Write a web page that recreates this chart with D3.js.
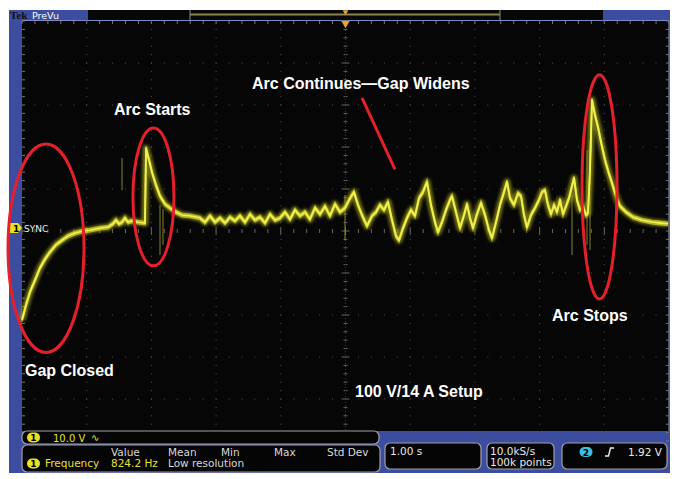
<!DOCTYPE html>
<html><head><meta charset="utf-8">
<script src="https://cdn.jsdelivr.net/npm/d3@7"></script>
<style>body{margin:0;background:#fff}svg{display:block}</style>
</head><body><svg id="c" width="680" height="479"></svg>
<script>
// ---- data (time in s since record start, voltage in V) ----
const secPerDiv = 1.00, voltsPerDiv = 10.0;
const traceT = [0,0.062,0.124,0.201,0.278,0.355,0.433,0.525,0.618,0.711,0.819,0.943,1.051,1.206,1.329,1.406,1.453,1.499,1.546,1.592,1.638,1.700,1.793,1.901,
 1.917,1.963,2.009,2.071,2.133,2.210,2.287,2.380,2.473,2.597,2.751,
 2.828,2.906,2.983,3.060,3.138,3.215,3.292,3.369,3.447,3.524,3.601,3.679,3.756,3.833,3.910,3.988,4.065,4.142,4.219,4.297,4.374,4.451,4.529,4.606,4.683,4.760,4.838,4.915,4.992,
 5.070,5.131,5.193,5.255,5.332,5.410,5.471,5.533,5.595,5.657,5.719,5.781,5.827,5.889,5.951,6.012,6.074,6.136,6.198,6.260,6.321,6.383,6.430,6.491,6.553,6.615,6.646,6.708,6.770,6.832,6.878,6.924,6.971,7.032,7.094,7.156,7.218,7.264,7.326,7.388,7.450,7.496,7.543,7.604,7.666,7.713,7.759,7.805,7.867,7.929,7.991,8.037,8.083,8.130,8.176,8.223,8.269,8.315,8.362,8.408,8.454,8.501,8.532,8.578,8.624,8.671,8.717,8.748,
 8.779,8.810,8.856,8.903,8.949,9.011,9.073,9.119,9.181,9.243,9.335,9.444,9.583,9.737,9.861,9.985];
const traceV = [-21.9,-18.3,-15.2,-12.4,-9.5,-7.4,-5.7,-4.0,-2.9,-1.9,-1.2,-0.7,-0.5,0,0.2,1.0,1.9,1.0,1.4,2.4,1.4,1.7,1.4,1.2,
 19.0,16.2,13.3,10.2,7.6,5.7,4.8,3.8,3.1,2.9,2.4,
 1.4,2.9,1.4,2.4,1.2,2.6,1.7,2.9,1.4,3.3,1.9,2.6,1.2,3.3,1.9,2.4,3.8,2.1,4.3,2.9,3.8,2.1,4.8,3.3,5.2,2.9,5.7,3.8,4.8,
 7.1,8.6,5.5,3.1,0.5,2.9,3.8,5.5,4.3,6.2,1.9,-1.9,-2.9,0,2.4,4.3,2.9,7.1,8.6,11.0,5.5,1.4,-1.0,1.4,4.3,6.7,7.6,3.8,0,3.1,5.7,2.4,0,3.3,6.0,3.1,-0.5,-2.4,1.4,5.5,8.6,11.0,7.1,5.5,8.3,7.6,3.1,0.2,3.1,4.8,6.7,8.6,9.0,5.5,3.3,5.5,3.8,6.7,3.3,5.2,7.1,10.0,11.9,6.7,4.3,5.2,3.1,3.6,
 13.8,30.5,26.9,24.0,20.5,16.2,12.9,10.7,7.6,5.2,3.8,2.6,1.9,1.4,1.2,1.0];
// faint vertical glitches: time, low V, high V
const spikeT = [1.546, 2.133, 2.179, 4.992, 8.501, 8.733, 8.779];
const spikeLo = [9.0, -6.4, -4.0, -2.9, -6.4, -4.0, -5.2];
const spikeHi = [16.7, 5.5, 4.5, 7.9, 7.9, 18.6, 21.0];
// annotations
const ellT = [0.371, 2.032, 8.926], ellV = [-4.8, 7.4, 9.8], ellRT = [0.587, 0.317, 0.270], ellRV = [24.8, 16.4, 26.7];
const pointerT = [5.255, 5.765], pointerV = [31.0, 14.0];
const labelText = ["Gap Closed", "Arc Starts", "Arc Continues\u2014Gap Widens", "Arc Stops", "100 V/14 A Setup"];
const labelT = [0.046, 1.422, 3.555, 8.192, 5.147];
const labelV = [-35.2, 26.9, 33.1, -22.1, -40.2];
// readouts
const measHeaders = ["Value", "Mean", "Min", "Max", "Std Dev"];
const measRow = ["824.2 Hz", "Low resolution"];

const svg = d3.select("#c");
const L = 22, R = 669, T = 21, B = 441;
const x = d3.scaleLinear().domain([0, 10 * secPerDiv]).range([L, R]);
const y = d3.scaleLinear().domain([-50.7, 49.3]).range([B, T]);
const gx = d3.scaleLinear().domain([-5, 5]).range([L, R]);
const gy = d3.scaleLinear().domain([-5, 5]).range([B, T]);
const blue = "#3c4d9f";

const defs = svg.append("defs");
defs.append("filter").attr("id", "blur").attr("x", "-5%").attr("y", "-20%").attr("width", "110%").attr("height", "140%")
  .append("feGaussianBlur").attr("stdDeviation", 1.6);
defs.append("filter").attr("id", "blur2")
  .append("feGaussianBlur").attr("stdDeviation", 0.6);

// frame
svg.append("rect").attr("x", 9).attr("y", 10).attr("width", 661).attr("height", 463).attr("fill", blue);
svg.append("rect").attr("x", L).attr("y", 20).attr("width", R - L).attr("height", 411).attr("fill", "#060606");
// top bar
svg.append("rect").attr("x", 88).attr("y", 10).attr("width", 515).attr("height", 10).attr("fill", "#070707");
svg.append("text").attr("x", 10).attr("y", 19).attr("font-family", "Liberation Serif").attr("font-weight", "bold").attr("font-size", 11).attr("fill", "#111").text("Tek");
svg.append("text").attr("x", 32).attr("y", 18.5).attr("font-family", "DejaVu Sans").attr("font-size", 9.5).attr("fill", "#fff").text("PreVu");
svg.append("line").attr("x1", 190).attr("x2", 500).attr("y1", 14.5).attr("y2", 14.5).attr("stroke", "#8c8448").attr("stroke-width", 2);
[190, 500].forEach(v => svg.append("line").attr("x1", v).attr("x2", v).attr("y1", 10).attr("y2", 20).attr("stroke", "#8a8a8a").attr("stroke-width", 1));
svg.append("path").attr("d", d3.symbol(d3.symbolTriangle, 14)()).attr("transform", `translate(${gx(0)},12) rotate(180)`).attr("fill", "#f0a030");
svg.append("line").attr("x1", L).attr("x2", R).attr("y1", 20.5).attr("y2", 20.5).attr("stroke", "#7d8cc4").attr("stroke-width", 1);
svg.append("line").attr("x1", R).attr("x2", R).attr("y1", 20).attr("y2", 431).attr("stroke", "#6f7fb8").attr("stroke-width", 1.2);

// graticule
const g = svg.append("g");
const minorX = d3.range(-5, 5.001, 0.2), minorY = d3.range(-5, 5.001, 0.2);
d3.range(-4, 5).forEach(i => {
  if (i === 0) return;
  g.selectAll(null).data(minorY).enter().append("rect")
    .attr("x", gx(i) - 0.5).attr("y", d => gy(d) - 0.5).attr("width", 1).attr("height", 1).attr("fill", "#555");
  g.selectAll(null).data(minorX).enter().append("rect")
    .attr("x", d => gx(d) - 0.5).attr("y", gy(i) - 0.5).attr("width", 1).attr("height", 1).attr("fill", "#555");
});
const isMajor = d => Math.abs(d - Math.round(d)) < 1e-6;
g.selectAll(null).data(minorY).enter().append("line")
  .attr("x1", d => gx(0) - (isMajor(d) ? 4 : 2)).attr("x2", d => gx(0) + (isMajor(d) ? 4 : 2))
  .attr("y1", d => gy(d)).attr("y2", d => gy(d)).attr("stroke", "#666").attr("stroke-width", 1);
g.append("line").attr("x1", gx(0)).attr("x2", gx(0)).attr("y1", T).attr("y2", 431).attr("stroke", "#3a3a3a").attr("stroke-dasharray", "1,2");
g.selectAll(null).data(minorX).enter().append("line")
  .attr("y1", d => gy(0) - (isMajor(d) ? 4 : 2)).attr("y2", d => gy(0) + (isMajor(d) ? 4 : 2))
  .attr("x1", d => gx(d)).attr("x2", d => gx(d)).attr("stroke", "#666").attr("stroke-width", 1);
g.selectAll(null).data(minorX).enter().append("line")
  .attr("x1", d => gx(d)).attr("x2", d => gx(d)).attr("y1", T).attr("y2", T + 3).attr("stroke", "#777");
g.selectAll(null).data(minorY).enter().append("line")
  .attr("y1", d => gy(d)).attr("y2", d => gy(d)).attr("x1", L).attr("x2", L + 3).attr("stroke", "#777");
g.selectAll(null).data(minorY).enter().append("line")
  .attr("y1", d => gy(d)).attr("y2", d => gy(d)).attr("x1", R - 3).attr("x2", R).attr("stroke", "#777");
svg.append("path").attr("d", d3.symbol(d3.symbolTriangle, 30)()).attr("transform", `translate(${gx(0)},23.5) rotate(180)`).attr("fill", "#f0a030");

// trace
const pts = traceT.map((t, i) => [t, traceV[i]]);
const line = d3.line().x(d => x(d[0])).y(d => y(d[1]));
const tg = svg.append("g");
tg.selectAll(null).data(spikeT).enter().append("line")
  .attr("x1", d => x(d)).attr("x2", d => x(d))
  .attr("y1", (d, i) => y(spikeLo[i])).attr("y2", (d, i) => y(spikeHi[i]))
  .attr("stroke", "#9a9a30").attr("stroke-width", 1.2).attr("opacity", 0.7);
tg.append("path").attr("d", line(pts)).attr("fill", "none").attr("stroke", "#9c9c1c").attr("stroke-width", 7)
  .attr("stroke-linejoin", "round").attr("opacity", 0.7).attr("filter", "url(#blur)");
[-1.6, 1.6].forEach(dy => tg.append("path").attr("d", line(pts)).attr("transform", `translate(0,${dy})`)
  .attr("fill", "none").attr("stroke", "#d4d42a").attr("stroke-width", 1.6).attr("opacity", 0.75).attr("filter", "url(#blur2)"));
tg.append("path").attr("d", line(pts)).attr("fill", "none").attr("stroke", "#f2f250").attr("stroke-width", 1.8)
  .attr("stroke-linejoin", "round").attr("filter", "url(#blur2)");

// channel 1 marker
svg.append("path").attr("d", `M9,${y(0) - 5}h9l4,5l-4,5h-9z`).attr("fill", "#e8e020");
svg.append("text").attr("x", 13).attr("y", y(0) + 3.5).attr("font-family", "DejaVu Sans").attr("font-weight", "bold").attr("font-size", 9).attr("fill", "#000").text("1");
svg.append("text").attr("x", 24).attr("y", y(0) + 3.5).attr("font-family", "DejaVu Sans").attr("font-size", 9).attr("fill", "#eee").text("SYNC");

// annotations
const ag = svg.append("g");
ag.selectAll(null).data(ellT).enter().append("ellipse")
  .attr("cx", d => x(d)).attr("cy", (d, i) => y(ellV[i]))
  .attr("rx", (d, i) => x(ellRT[i]) - x(0)).attr("ry", (d, i) => y(0) - y(ellRV[i]))
  .attr("fill", "none").attr("stroke", "#e4202a").attr("stroke-width", 3);
ag.append("line").attr("x1", x(pointerT[0])).attr("y1", y(pointerV[0])).attr("x2", x(pointerT[1])).attr("y2", y(pointerV[1]))
  .attr("stroke", "#e4202a").attr("stroke-width", 3);
ag.selectAll(null).data(labelText).enter().append("text")
  .attr("x", (d, i) => x(labelT[i])).attr("y", (d, i) => y(labelV[i]))
  .attr("font-family", "Liberation Sans, Arial, sans-serif").attr("font-weight", "bold").attr("font-size", 16)
  .attr("fill", "#fff").text(d => d);

// bottom readouts
const rg = svg.append("g").attr("font-family", "DejaVu Sans").attr("font-size", 10.5);
function box(x0, y0, w, h) {
  rg.append("rect").attr("x", x0).attr("y", y0).attr("width", w).attr("height", h).attr("rx", 5)
    .attr("fill", "#050505").attr("stroke", "#a0a0a8").attr("stroke-width", 1.2);
}
function badge(cx, cy, txt, col) {
  rg.append("rect").attr("x", cx - 6.5).attr("y", cy - 5).attr("width", 13).attr("height", 10).attr("rx", 5).attr("fill", col);
  rg.append("text").attr("x", cx).attr("y", cy + 3.5).attr("text-anchor", "middle").attr("font-weight", "bold").attr("font-size", 9).attr("fill", "#000").text(txt);
}
box(22, 431, 357, 13);
badge(33.5, 437.5, "1", "#ece020");
rg.append("text").attr("x", 53).attr("y", 441.5).attr("fill", "#e8e030").attr("font-size", 10).text("10.0 V");
rg.append("text").attr("x", 91).attr("y", 441).attr("fill", "#e8e030").attr("font-size", 10).text("\u223F");
box(22, 445, 358, 27);
rg.selectAll(null).data(measHeaders).enter().append("text")
  .attr("x", (d, i) => [111, 168, 221, 274, 327][i]).attr("y", 456).attr("fill", "#d8d8d8").text(d => d);
badge(33.5, 463.5, "1", "#ece020");
rg.append("text").attr("x", 45).attr("y", 467).attr("fill", "#e8e030").text("Frequency");
rg.append("text").attr("x", 111).attr("y", 467).attr("fill", "#e8e030").text(measRow[0]);
rg.append("text").attr("x", 168).attr("y", 467).attr("fill", "#d8d8d8").text(measRow[1]);
box(385, 443, 96, 26);
rg.append("text").attr("x", 390).attr("y", 455).attr("fill", "#e8e8e8").text("1.00 s");
box(487, 443, 67, 26);
rg.append("text").attr("x", 490).attr("y", 455).attr("fill", "#e8e8e8").text("10.0kS/s");
rg.append("text").attr("x", 490).attr("y", 466).attr("fill", "#e8e8e8").text("100k points");
box(562, 443, 105, 26);
badge(586, 452, "2", "#40c0e0");
rg.append("path").attr("d", "M605,456 h3.5 l2,-8 h3.5").attr("fill", "none").attr("stroke", "#eee").attr("stroke-width", 1.4);
rg.append("text").attr("x", 628).attr("y", 456).attr("fill", "#e8e8e8").text("1.92 V");
</script></body></html>
